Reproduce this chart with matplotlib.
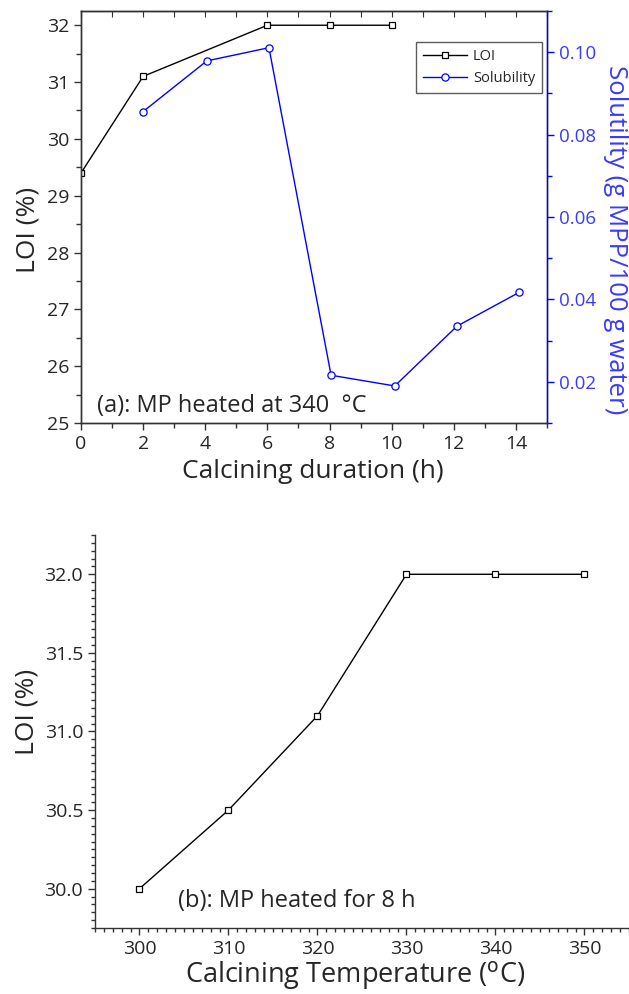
import numpy as np
import matplotlib.pyplot as plt
from matplotlib.ticker import MultipleLocator

plt.rcParams['font.family'] = ['Open Sans', 'DejaVu Sans']

# ---- data (a): calcining duration at 340 C ----
dur_loi = [0, 2, 6, 8, 10]
loi_a = [29.4, 31.1, 32.0, 32.0, 32.0]
dur_sol = [2.0, 4.05, 6.05, 8.05, 10.1, 12.1, 14.1]
solubility = [0.0856, 0.0979, 0.1011, 0.0216, 0.0190, 0.0335, 0.0417]

# ---- data (b): calcining temperature for 8 h ----
temp_b = [300, 310, 320, 330, 340, 350]
loi_b = [30.0, 30.5, 31.1, 32.0, 32.0, 32.0]

TXT = '#262626'
BLUE = '#0000ff'
BLUE_TXT = '#3a3aff'

fig = plt.figure(figsize=(6.29, 9.94), dpi=100)

# ======== panel (a) ========
ax = fig.add_axes([0.1288, 0.5744, 0.7408, 0.4145])
ax2 = ax.twinx()

l1, = ax.plot(dur_loi, loi_a, color='black', lw=1.0, marker='s', ms=4.3,
              mfc='white', mec='black', mew=0.9, label='LOI')
l2, = ax2.plot(dur_sol, solubility, color=BLUE, lw=1.0, marker='o', ms=5.2,
               mfc='white', mec=BLUE, mew=0.9, label='Solubility')

ax.set_xlim(0, 15)
ax.set_ylim(25, 32.25)
ax2.set_ylim(0.01, 0.11)
ax.xaxis.set_major_locator(MultipleLocator(2))
ax.xaxis.set_minor_locator(MultipleLocator(1))
ax.yaxis.set_major_locator(MultipleLocator(1))
ax.yaxis.set_minor_locator(MultipleLocator(0.5))
ax2.yaxis.set_major_locator(MultipleLocator(0.02))
ax2.yaxis.set_minor_locator(MultipleLocator(0.01))
ax2.yaxis.set_major_formatter(plt.FormatStrFormatter('%.2f'))

for a in (ax, ax2):
    for s in a.spines.values():
        s.set_color('#333333')
        s.set_linewidth(1.0)
ax2.spines['right'].set_color(BLUE)

ax.tick_params(which='both', direction='out', colors='#333333',
               labelcolor=TXT, labelsize=14, width=1.0)
ax.tick_params(which='major', length=5)
ax.tick_params(which='minor', length=3.5)
ax2.tick_params(which='both', direction='out', colors=BLUE,
                labelcolor=BLUE_TXT, labelsize=13.5, width=1.0)
ax2.tick_params(which='major', length=5)
ax2.tick_params(which='minor', length=3.5)

top = ax.secondary_xaxis('top')
top.set_xticks(np.arange(0, 16, 1))
top.tick_params(direction='in', length=4, labeltop=False, colors='#333333')

ax.set_xlabel('Calcining duration (h)', fontsize=19, color=TXT)
ax.set_ylabel('LOI (%)', fontsize=19, color=TXT)
ax2.set_ylabel('Solutility (g MPP/100 g water)', fontsize=18.5, color=BLUE_TXT,
               rotation=270)
ax.xaxis.set_label_coords(0.498, -0.087)
ax.yaxis.set_label_coords(-0.088, 0.468)
ax2.yaxis.set_label_coords(1.174, 0.444)

ax.text(0.034, 0.027, '(a): MP heated at 340  \u00b0C', transform=ax.transAxes,
        fontsize=17, color=TXT, ha='left', va='baseline')

leg = ax2.legend(handles=[l1, l2], loc='upper right',
                 bbox_to_anchor=(0.99, 0.925), fontsize=10.5, frameon=True,
                 fancybox=False, handlelength=3.0, borderpad=0.5,
                 labelspacing=0.45, handletextpad=0.4, borderaxespad=0)
leg.get_frame().set_edgecolor('#333333')
leg.get_frame().set_linewidth(1.0)
for t in leg.get_texts():
    t.set_color(TXT)

# ======== panel (b) ========
bx = fig.add_axes([0.151, 0.0664, 0.849, 0.3954])
bx.plot(temp_b, loi_b, color='black', lw=1.0, marker='s', ms=4.3,
        mfc='white', mec='black', mew=0.9)
bx.set_xlim(295, 355)
bx.set_ylim(29.75, 32.25)
bx.xaxis.set_major_locator(MultipleLocator(10))
bx.xaxis.set_minor_locator(MultipleLocator(1))
bx.yaxis.set_major_locator(MultipleLocator(0.5))
bx.yaxis.set_minor_locator(MultipleLocator(0.05))
bx.yaxis.set_major_formatter(plt.FormatStrFormatter('%.1f'))
bx.spines['top'].set_visible(False)
bx.spines['right'].set_visible(False)
for s in ('left', 'bottom'):
    bx.spines[s].set_color('#333333')
    bx.spines[s].set_linewidth(1.0)
bx.tick_params(which='both', direction='out', colors='#333333',
               labelcolor=TXT, labelsize=14, width=1.0)
bx.tick_params(which='major', length=5)
bx.tick_params(which='minor', length=3)

bx.set_xlabel('Calcining Temperature ($^{\\rm o}$C)', fontsize=19.5, color=TXT)
bx.set_ylabel('LOI (%)', fontsize=19, color=TXT)
bx.xaxis.set_label_coords(0.487, -0.079)
bx.yaxis.set_label_coords(-0.103, 0.55)

bx.text(0.155, 0.053, '(b): MP heated for 8 h', transform=bx.transAxes,
        fontsize=17, color=TXT, ha='left', va='baseline')

fig.savefig('out.png', dpi=100)
